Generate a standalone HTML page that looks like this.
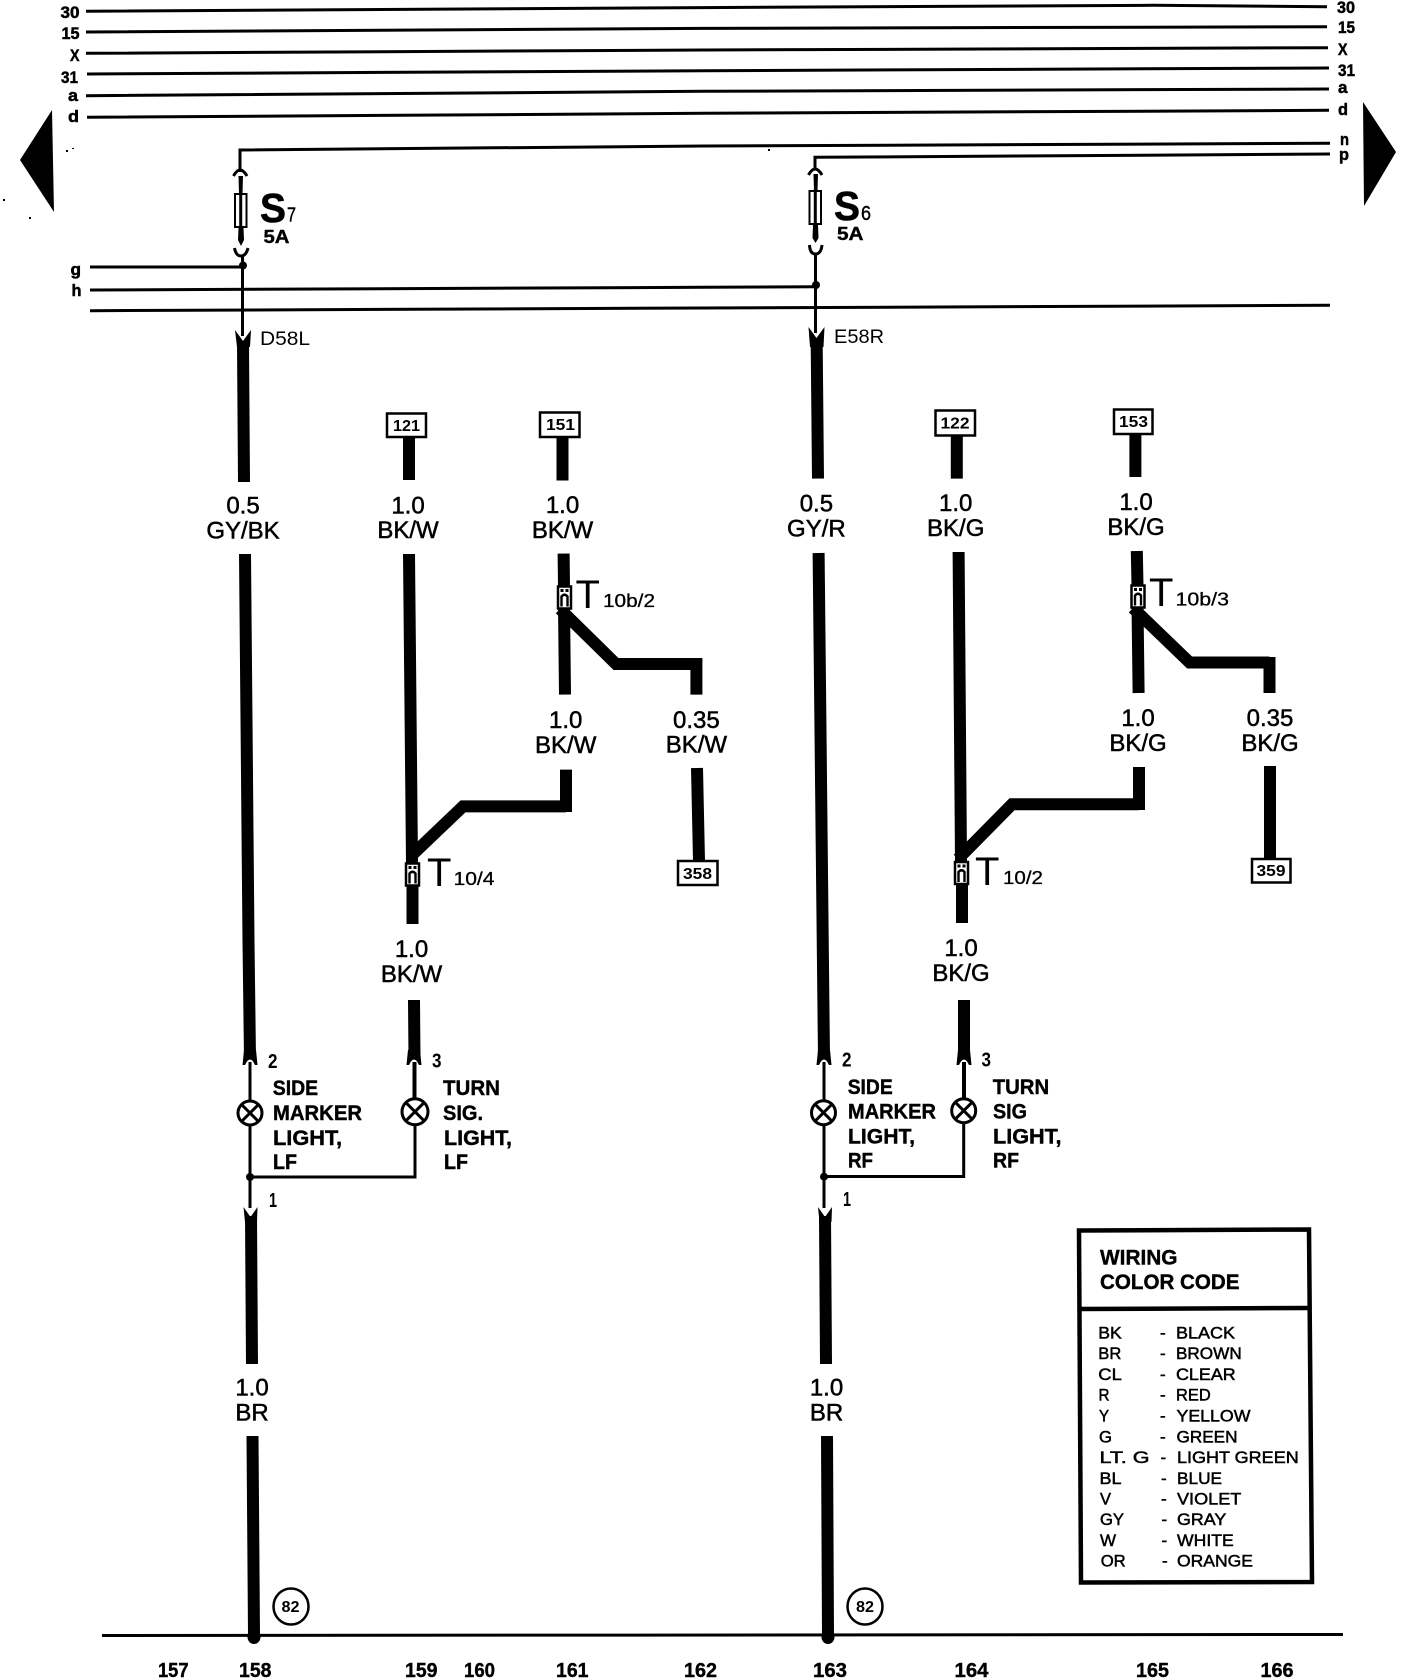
<!DOCTYPE html>
<html>
<head>
<meta charset="utf-8">
<title>Wiring diagram</title>
<style>
html,body{margin:0;padding:0;background:#fff;width:1408px;height:1680px;overflow:hidden}
svg{display:block}
text{fill:#000;font-family:"Liberation Sans",sans-serif}
.b{font-weight:bold}
.w{font-size:24px;text-anchor:middle;stroke:#000;stroke-width:.5}
.bus{font-size:17px;font-weight:bold;stroke:#000;stroke-width:.5}
.box{font-size:16px;font-weight:bold;text-anchor:middle}
.lab{font-size:21px;font-weight:bold;stroke:#000;stroke-width:.4}
.pin{font-size:20px;font-weight:bold}
.num{font-size:20px;font-weight:bold;stroke:#000;stroke-width:.4}
.T{font-size:40px}
.sub{font-size:18px;stroke:#000;stroke-width:.3}
.leg{font-size:17px;stroke:#000;stroke-width:.5}
.thin{fill:none;stroke:#000;stroke-width:3}
.thick{fill:none;stroke:#000;stroke-width:12;stroke-linejoin:miter}
.mid{fill:none;stroke:#000;stroke-width:4}
</style>
</head>
<body>
<svg width="1408" height="1680" viewBox="0 0 1408 1680" xmlns="http://www.w3.org/2000/svg">
<rect width="1408" height="1680" fill="#fff"/>

<!-- bus lines -->
<g class="thin">
<polyline points="86,11.3 704,7.6 1153,5.3 1327,6.7"/>
<polyline points="86,32 704,28.4 1327,26.7"/>
<polyline points="86,53.3 704,50 1328,47.7"/>
<polyline points="87,74 704,70.7 1329,68"/>
<polyline points="86,95.7 704,91.3 1329,89"/>
<polyline points="87,117.3 704,113.3 1329,110.3"/>
<polyline points="240,172 240,150 704,146 1330,143.3"/>
<polyline points="815,170 815,157.3 1330,154"/>
<polyline points="90,267 243,267"/>
<polyline points="90,290 704,287.3 816,286.7"/>
<polyline points="90,310.7 704,308 1330,305.3"/>
<polyline points="102,1635.5 1343,1634.5"/>
</g>

<!-- arrows -->
<polygon points="20,160 52,110 54,212" fill="#000"/>
<polygon points="1363,102 1396,152 1364,206" fill="#000"/>
<rect x="66" y="150" width="2" height="2"/><rect x="72" y="148" width="2" height="1"/>
<rect x="3" y="199" width="2" height="2"/><rect x="29" y="217" width="2" height="2"/>
<rect x="768" y="149" width="2" height="2"/>

<!-- bus labels left -->
<text class="bus" x="60.5" y="18" textLength="19" lengthAdjust="spacingAndGlyphs">30</text>
<text class="bus" x="61.5" y="39" textLength="18" lengthAdjust="spacingAndGlyphs">15</text>
<text class="bus" x="70" y="61" textLength="9.5" lengthAdjust="spacingAndGlyphs">X</text>
<text class="bus" x="61" y="83" textLength="17" lengthAdjust="spacingAndGlyphs">31</text>
<text class="bus" x="68" y="101" textLength="10" lengthAdjust="spacingAndGlyphs">a</text>
<text class="bus" x="68" y="122" textLength="11" lengthAdjust="spacingAndGlyphs">d</text>
<text class="bus" x="70.5" y="275" textLength="10.5" lengthAdjust="spacingAndGlyphs">g</text>
<text class="bus" x="71.5" y="296" textLength="10" lengthAdjust="spacingAndGlyphs">h</text>
<!-- bus labels right -->
<text class="bus" x="1337" y="13" textLength="18" lengthAdjust="spacingAndGlyphs">30</text>
<text class="bus" x="1338" y="33" textLength="17" lengthAdjust="spacingAndGlyphs">15</text>
<text class="bus" x="1338" y="55" textLength="9.5" lengthAdjust="spacingAndGlyphs">X</text>
<text class="bus" x="1338" y="76" textLength="17" lengthAdjust="spacingAndGlyphs">31</text>
<text class="bus" x="1338" y="93" textLength="9.5" lengthAdjust="spacingAndGlyphs">a</text>
<text class="bus" x="1338" y="115" textLength="10" lengthAdjust="spacingAndGlyphs">d</text>
<text class="bus" x="1340" y="145" textLength="9" lengthAdjust="spacingAndGlyphs">n</text>
<text class="bus" x="1339" y="160" textLength="10" lengthAdjust="spacingAndGlyphs">p</text>

<!-- fuse S7 -->
<path class="thin" d="M233.5,176 Q240,164 247,176"/>
<path d="M238.5,176H243L242.5,194H239Z"/>
<rect x="235" y="194" width="11.5" height="33" fill="#fff" stroke="#000" stroke-width="2"/>
<path class="thin" d="M240.7,192V229"/>
<path d="M238.5,228H243.5L244,240L241,246L238,240Z"/>
<path class="thin" d="M234.5,248 Q236,256 241,256 Q246,256 248,248"/>
<path class="thin" d="M242.5,255V336"/>
<circle cx="243" cy="265.5" r="4"/>
<path d="M235,330 L243,341 L251,330 L250,347 L237,347Z"/>
<text class="b" x="260" y="222" font-size="41" textLength="26" lengthAdjust="spacingAndGlyphs" stroke="#000" stroke-width=".6">S</text>
<text x="287" y="221.5" font-size="20" textLength="9" lengthAdjust="spacingAndGlyphs" stroke="#000" stroke-width=".4">7</text>
<text class="lab" x="263.5" y="243" style="font-size:18px" textLength="26" lengthAdjust="spacingAndGlyphs">5A</text>
<text x="260" y="345" font-size="19" textLength="50" lengthAdjust="spacingAndGlyphs">D58L</text>

<!-- fuse S6 -->
<path class="thin" d="M808.5,175 Q815,163 822,175"/>
<path d="M813.5,174H818L817.5,191H814Z"/>
<rect x="809.5" y="191" width="11.5" height="33" fill="#fff" stroke="#000" stroke-width="2"/>
<path class="thin" d="M815.3,189V226"/>
<path d="M813,225H818L818.5,238L815.5,243L812.5,238Z"/>
<path class="thin" d="M809.5,245 Q810,254 815.5,254 Q821,254 822,245"/>
<path class="thin" d="M815.5,253V333"/>
<circle cx="816" cy="285" r="4"/>
<path d="M808.5,327 L816.5,338 L824.5,327 L823.5,347 L810,347Z"/>
<text class="b" x="834" y="220" font-size="41" textLength="26" lengthAdjust="spacingAndGlyphs" stroke="#000" stroke-width=".6">S</text>
<text x="861" y="220" font-size="20" textLength="10" lengthAdjust="spacingAndGlyphs" stroke="#000" stroke-width=".4">6</text>
<text class="lab" x="837" y="240" style="font-size:18px" textLength="26.5" lengthAdjust="spacingAndGlyphs">5A</text>
<text x="834" y="343" font-size="19" textLength="50" lengthAdjust="spacingAndGlyphs">E58R</text>

<!-- left main wire -->
<g class="thick">
<polyline points="243,345 244,482"/>
<polyline points="245,554 248.5,942 250,1058"/>
<polyline points="251,1216 252,1364"/>
<polyline points="252.5,1436 254,1635"/>
<polyline points="409,437 409,480"/>
<polyline points="409,554 412,863"/>
<polyline points="412.5,885 412.5,924"/>
<polyline points="414,1000 414.5,1058"/>
<polyline points="411,856 463,806.4 566,806.4"/>
<polyline points="566,769.6 566,812"/>
<polyline points="562.5,437 562.5,480.5"/>
<polyline points="563.6,553.6 564,586"/>
<polyline points="564,606 565,694.6"/>
<polyline points="560,609 616,664 696.4,664"/>
<polyline points="696.4,658 696.4,694.6"/>
<polyline points="697,768 699,861"/>
</g>
<!-- right main wires -->
<g class="thick">
<polyline points="816.7,345 818,478.6"/>
<polyline points="818.6,553 822.9,957 824,1058"/>
<polyline points="825,1216 826,1364"/>
<polyline points="827,1436 828,1635"/>
<polyline points="956.8,436 956.8,478.6"/>
<polyline points="958.6,552 961,861"/>
<polyline points="962,885 962,923"/>
<polyline points="964,1000 964,1058"/>
<polyline points="958,859 1012,804.3 1139,804.3"/>
<polyline points="1139,767 1139,810"/>
<polyline points="1135.4,434 1135.4,477"/>
<polyline points="1136.8,551 1137.5,585"/>
<polyline points="1137.5,605 1138.6,693"/>
<polyline points="1133,608 1189.6,662.5 1269.5,662.5"/>
<polyline points="1269.5,657 1269.5,693"/>
<polyline points="1270,766 1270,859"/>
</g>

<!-- dots at ground -->
<ellipse cx="254" cy="1637" rx="6.5" ry="7"/>
<ellipse cx="828" cy="1637" rx="6.5" ry="7"/>

<!-- boxes -->
<g fill="#fff" stroke="#000" stroke-width="2.5">
<rect x="387" y="413.5" width="39" height="23.5"/>
<rect x="540" y="412.5" width="39.5" height="24.5"/>
<rect x="678" y="861" width="39.5" height="24"/>
<rect x="935.5" y="410.5" width="39.5" height="25"/>
<rect x="1114" y="409.5" width="38.5" height="24.5"/>
<rect x="1252" y="859" width="38.5" height="23.5"/>
</g>
<text class="box" x="406.5" y="431" textLength="27" lengthAdjust="spacingAndGlyphs">121</text>
<text class="box" x="560.5" y="430" textLength="29" lengthAdjust="spacingAndGlyphs">151</text>
<text class="box" x="697.5" y="879" textLength="29" lengthAdjust="spacingAndGlyphs">358</text>
<text class="box" x="955" y="428.5" textLength="29" lengthAdjust="spacingAndGlyphs">122</text>
<text class="box" x="1133.5" y="427" textLength="29" lengthAdjust="spacingAndGlyphs">153</text>
<text class="box" x="1271" y="876" textLength="29" lengthAdjust="spacingAndGlyphs">359</text>

<!-- wire labels -->
<text class="w" x="243" y="513.5">0.5</text><text class="w" x="243" y="538.5">GY/BK</text>
<text class="w" x="408" y="513.5">1.0</text><text class="w" x="408" y="538">BK/W</text>
<text class="w" x="562.5" y="513">1.0</text><text class="w" x="562.5" y="538">BK/W</text>
<text class="w" x="565.7" y="728">1.0</text><text class="w" x="565.7" y="753">BK/W</text>
<text class="w" x="696.4" y="728">0.35</text><text class="w" x="696.4" y="752.5">BK/W</text>
<text class="w" x="411.5" y="957">1.0</text><text class="w" x="411.5" y="982">BK/W</text>
<text class="w" x="816.4" y="511.5">0.5</text><text class="w" x="816.4" y="536.5">GY/R</text>
<text class="w" x="955.7" y="511">1.0</text><text class="w" x="955.7" y="536">BK/G</text>
<text class="w" x="1136" y="510">1.0</text><text class="w" x="1136" y="535">BK/G</text>
<text class="w" x="1138" y="726">1.0</text><text class="w" x="1138" y="751">BK/G</text>
<text class="w" x="1270" y="726">0.35</text><text class="w" x="1270" y="751">BK/G</text>
<text class="w" x="961" y="956">1.0</text><text class="w" x="961" y="981">BK/G</text>
<text class="w" x="252" y="1395.5">1.0</text><text class="w" x="252" y="1420.5">BR</text>
<text class="w" x="826.5" y="1395.5">1.0</text><text class="w" x="826.5" y="1420.5">BR</text>

<!-- connectors T -->
<defs>
<g id="tc">
<rect x="1" y="1" width="13" height="22" fill="#fff" stroke="#000" stroke-width="2.5"/>
<rect x="3.5" y="3.5" width="3" height="3"/><rect x="8.5" y="3.5" width="3" height="3"/>
<path d="M4.5,21V11 Q7.5,7.5 10.5,11V21" fill="none" stroke="#000" stroke-width="2.4"/>
</g>
</defs>
<use href="#tc" x="405" y="862.5"/>
<use href="#tc" x="557" y="585.5"/>
<use href="#tc" x="954" y="861"/>
<use href="#tc" x="1130.5" y="584.5"/>
<text class="T" x="427" y="886">T</text>
<text class="sub" x="453.5" y="885" textLength="41" lengthAdjust="spacingAndGlyphs">10/4</text>
<text class="T" x="575.5" y="608">T</text>
<text class="sub" x="603" y="607" textLength="52" lengthAdjust="spacingAndGlyphs">10b/2</text>
<text class="T" x="975" y="885">T</text>
<text class="sub" x="1003" y="884" textLength="40" lengthAdjust="spacingAndGlyphs">10/2</text>
<text class="T" x="1149" y="606">T</text>
<text class="sub" x="1175.5" y="605.5" textLength="53.5" lengthAdjust="spacingAndGlyphs">10b/3</text>

<!-- lamp connectors, left -->
<path d="M242.5,1065 L244,1050 L256,1050 L257.5,1065 L255,1065 Q250,1054 245,1065Z"/>
<path d="M406.5,1065 L408,1050 L420,1050 L421.5,1065 L419,1065 Q414,1054 409,1065Z"/>
<path class="thin" d="M250,1062V1100M250,1126V1208"/>
<path class="mid" d="M414.5,1062V1098"/>
<path class="thin" d="M415,1124V1177H250"/>
<circle cx="250" cy="1113" r="12" fill="#fff" stroke="#000" stroke-width="3"/>
<path class="thin" d="M241.5,1104.5L258.5,1121.5M258.5,1104.5L241.5,1121.5"/>
<circle cx="415" cy="1111.7" r="13" fill="#fff" stroke="#000" stroke-width="3"/>
<path class="thin" d="M406,1102.7L424,1120.7M424,1102.7L406,1120.7"/>
<circle cx="250" cy="1177" r="4"/>
<path d="M243.5,1207 L250.5,1217 L257.5,1207 L257,1222 L245,1222Z"/>
<!-- lamp connectors, right -->
<path d="M816.5,1065 L818,1050 L830,1050 L831.5,1065 L829,1065 Q824,1054 819,1065Z"/>
<path d="M956.5,1065 L958,1050 L970,1050 L971.5,1065 L969,1065 Q964,1054 959,1065Z"/>
<path class="thin" d="M824,1062V1100M824,1126V1208"/>
<path class="mid" d="M964,1062V1098"/>
<path class="thin" d="M963.7,1124V1176.5H824"/>
<circle cx="823.5" cy="1112.7" r="12" fill="#fff" stroke="#000" stroke-width="3"/>
<path class="thin" d="M815,1104.2L832,1121.2M832,1104.2L815,1121.2"/>
<circle cx="963.7" cy="1110.7" r="12" fill="#fff" stroke="#000" stroke-width="3"/>
<path class="thin" d="M955.2,1102.2L972.2,1119.2M972.2,1102.2L955.2,1119.2"/>
<circle cx="824" cy="1176.7" r="4"/>
<path d="M818,1207 L825,1217 L832,1207 L831.5,1222 L819.5,1222Z"/>

<!-- pins -->
<text class="pin" x="268" y="1068" textLength="9.5" lengthAdjust="spacingAndGlyphs">2</text>
<text class="pin" x="432" y="1067.5" textLength="9.5" lengthAdjust="spacingAndGlyphs">3</text>
<text class="pin" x="269" y="1207" textLength="8" lengthAdjust="spacingAndGlyphs">1</text>
<text class="pin" x="842" y="1066.5" textLength="9.5" lengthAdjust="spacingAndGlyphs">2</text>
<text class="pin" x="981.5" y="1066.5" textLength="9.5" lengthAdjust="spacingAndGlyphs">3</text>
<text class="pin" x="843" y="1206" textLength="8" lengthAdjust="spacingAndGlyphs">1</text>

<!-- lamp labels -->
<text class="lab" x="272.7" y="1095" textLength="45.5" lengthAdjust="spacingAndGlyphs">SIDE</text>
<text class="lab" x="273" y="1120" textLength="89" lengthAdjust="spacingAndGlyphs">MARKER</text>
<text class="lab" x="273" y="1145" textLength="69" lengthAdjust="spacingAndGlyphs">LIGHT,</text>
<text class="lab" x="273" y="1169" textLength="24" lengthAdjust="spacingAndGlyphs">LF</text>
<text class="lab" x="443" y="1095" textLength="57" lengthAdjust="spacingAndGlyphs">TURN</text>
<text class="lab" x="443" y="1120" textLength="40" lengthAdjust="spacingAndGlyphs">SIG.</text>
<text class="lab" x="444" y="1145" textLength="68" lengthAdjust="spacingAndGlyphs">LIGHT,</text>
<text class="lab" x="444" y="1169" textLength="24" lengthAdjust="spacingAndGlyphs">LF</text>
<text class="lab" x="847.7" y="1094" textLength="45" lengthAdjust="spacingAndGlyphs">SIDE</text>
<text class="lab" x="848" y="1118.7" textLength="88" lengthAdjust="spacingAndGlyphs">MARKER</text>
<text class="lab" x="848" y="1143.3" textLength="67" lengthAdjust="spacingAndGlyphs">LIGHT,</text>
<text class="lab" x="848" y="1167.7" textLength="25" lengthAdjust="spacingAndGlyphs">RF</text>
<text class="lab" x="992.7" y="1094" textLength="56.5" lengthAdjust="spacingAndGlyphs">TURN</text>
<text class="lab" x="993" y="1118.7" textLength="34" lengthAdjust="spacingAndGlyphs">SIG</text>
<text class="lab" x="993" y="1143.3" textLength="68.5" lengthAdjust="spacingAndGlyphs">LIGHT,</text>
<text class="lab" x="993" y="1167.7" textLength="26" lengthAdjust="spacingAndGlyphs">RF</text>

<!-- ground circles -->
<ellipse cx="291" cy="1606.5" rx="17.5" ry="18" fill="#fff" stroke="#000" stroke-width="2.5"/>
<ellipse cx="865" cy="1606.5" rx="17.5" ry="18" fill="#fff" stroke="#000" stroke-width="2.5"/>
<text class="box" x="290.5" y="1612" textLength="18" lengthAdjust="spacingAndGlyphs">82</text>
<text class="box" x="865" y="1612" textLength="18" lengthAdjust="spacingAndGlyphs">82</text>

<!-- bottom numbers -->
<text class="num" x="158" y="1677" textLength="30.5" lengthAdjust="spacingAndGlyphs">157</text>
<text class="num" x="239" y="1677" textLength="32.5" lengthAdjust="spacingAndGlyphs">158</text>
<text class="num" x="405" y="1677" textLength="32.5" lengthAdjust="spacingAndGlyphs">159</text>
<text class="num" x="464" y="1677" textLength="31" lengthAdjust="spacingAndGlyphs">160</text>
<text class="num" x="556" y="1677" textLength="32.5" lengthAdjust="spacingAndGlyphs">161</text>
<text class="num" x="684" y="1677" textLength="33" lengthAdjust="spacingAndGlyphs">162</text>
<text class="num" x="813" y="1677" textLength="34" lengthAdjust="spacingAndGlyphs">163</text>
<text class="num" x="954.5" y="1677" textLength="34" lengthAdjust="spacingAndGlyphs">164</text>
<text class="num" x="1136" y="1677" textLength="33" lengthAdjust="spacingAndGlyphs">165</text>
<text class="num" x="1260.5" y="1677" textLength="33" lengthAdjust="spacingAndGlyphs">166</text>

<!-- legend -->
<polygon points="1079,1230.5 1309,1229.5 1312,1582 1081,1582.5" fill="#fff" stroke="#000" stroke-width="4.5"/>
<line x1="1079" y1="1309" x2="1310" y2="1308" stroke="#000" stroke-width="4.5"/>
<text class="lab" x="1100" y="1264.5" textLength="77.5" lengthAdjust="spacingAndGlyphs">WIRING</text>
<text class="lab" x="1100" y="1289" textLength="139.5" lengthAdjust="spacingAndGlyphs">COLOR CODE</text>
<g>
<text class="leg" x="1098.3" y="1338.5" textLength="23.5" lengthAdjust="spacingAndGlyphs">BK</text><text class="leg" x="1160" y="1338.5">-</text><text class="leg" x="1176" y="1338.5" textLength="59" lengthAdjust="spacingAndGlyphs">BLACK</text>
<text class="leg" x="1098.3" y="1359" textLength="23" lengthAdjust="spacingAndGlyphs">BR</text><text class="leg" x="1160" y="1359">-</text><text class="leg" x="1176" y="1359" textLength="65.7" lengthAdjust="spacingAndGlyphs">BROWN</text>
<text class="leg" x="1098.3" y="1380" textLength="23.5" lengthAdjust="spacingAndGlyphs">CL</text><text class="leg" x="1160" y="1380">-</text><text class="leg" x="1176" y="1380" textLength="59.7" lengthAdjust="spacingAndGlyphs">CLEAR</text>
<text class="leg" x="1098.5" y="1400.5" textLength="11" lengthAdjust="spacingAndGlyphs">R</text><text class="leg" x="1160" y="1400.5">-</text><text class="leg" x="1176" y="1400.5" textLength="34.7" lengthAdjust="spacingAndGlyphs">RED</text>
<text class="leg" x="1099" y="1421.5" textLength="10" lengthAdjust="spacingAndGlyphs">Y</text><text class="leg" x="1160" y="1421.5">-</text><text class="leg" x="1176.5" y="1421.5" textLength="74" lengthAdjust="spacingAndGlyphs">YELLOW</text>
<text class="leg" x="1099" y="1442.5" textLength="13" lengthAdjust="spacingAndGlyphs">G</text><text class="leg" x="1160" y="1442.5">-</text><text class="leg" x="1176.5" y="1442.5" textLength="61" lengthAdjust="spacingAndGlyphs">GREEN</text>
<text class="leg" x="1099.5" y="1463" textLength="50" lengthAdjust="spacingAndGlyphs">LT. G</text><text class="leg" x="1160.5" y="1463">-</text><text class="leg" x="1177" y="1463" textLength="121.7" lengthAdjust="spacingAndGlyphs">LIGHT GREEN</text>
<text class="leg" x="1099.5" y="1484" textLength="22" lengthAdjust="spacingAndGlyphs">BL</text><text class="leg" x="1161" y="1484">-</text><text class="leg" x="1177" y="1484" textLength="45" lengthAdjust="spacingAndGlyphs">BLUE</text>
<text class="leg" x="1100" y="1504.5" textLength="11" lengthAdjust="spacingAndGlyphs">V</text><text class="leg" x="1161" y="1504.5">-</text><text class="leg" x="1177" y="1504.5" textLength="64.3" lengthAdjust="spacingAndGlyphs">VIOLET</text>
<text class="leg" x="1100" y="1525" textLength="24" lengthAdjust="spacingAndGlyphs">GY</text><text class="leg" x="1161.5" y="1525">-</text><text class="leg" x="1177" y="1525" textLength="49.3" lengthAdjust="spacingAndGlyphs">GRAY</text>
<text class="leg" x="1100" y="1546" textLength="16" lengthAdjust="spacingAndGlyphs">W</text><text class="leg" x="1161.5" y="1546">-</text><text class="leg" x="1177" y="1546" textLength="56.7" lengthAdjust="spacingAndGlyphs">WHITE</text>
<text class="leg" x="1100.7" y="1566.5" textLength="25" lengthAdjust="spacingAndGlyphs">OR</text><text class="leg" x="1162" y="1566.5">-</text><text class="leg" x="1177" y="1566.5" textLength="76" lengthAdjust="spacingAndGlyphs">ORANGE</text>
</g>
</svg>
</body>
</html>
